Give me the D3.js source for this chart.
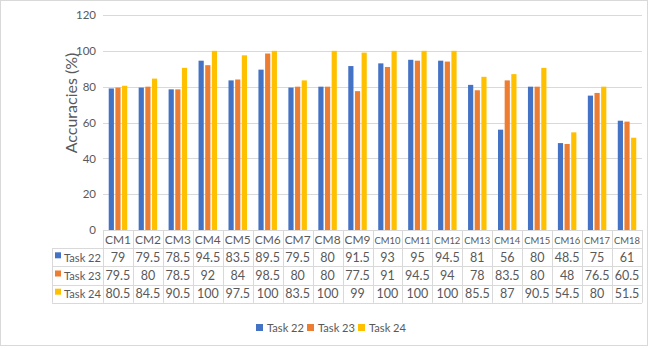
<!DOCTYPE html>
<html>
<head>
<meta charset="utf-8">
<script src="https://cdn.jsdelivr.net/npm/d3@7"></script>
<style>
  html, body { margin: 0; padding: 0; background: #fff; }
  svg { display: block; font-family: "Lato", "Liberation Sans", sans-serif; }
</style>
</head>
<body>
<svg id="chart" width="650" height="349"></svg>
<script>
// Accuracy per configuration for each task
const categories = ["CM1","CM2","CM3","CM4","CM5","CM6","CM7","CM8","CM9","CM10","CM11","CM12","CM13","CM14","CM15","CM16","CM17","CM18"];
const seriesNames = ["Task 22", "Task 23", "Task 24"];
const task22 = [79, 79.5, 78.5, 94.5, 83.5, 89.5, 79.5, 80, 91.5, 93, 95, 94.5, 81, 56, 80, 48.5, 75, 61];
const task23 = [79.5, 80, 78.5, 92, 84, 98.5, 80, 80, 77.5, 91, 94.5, 94, 78, 83.5, 80, 48, 76.5, 60.5];
const task24 = [80.5, 84.5, 90.5, 100, 97.5, 100, 83.5, 100, 99, 100, 100, 100, 85.5, 87, 90.5, 54.5, 80, 51.5];
const yTicks = [0, 20, 40, 60, 80, 100, 120];
const colors = ["#4472C4", "#ED7D31", "#FFC000"];

const series = seriesNames.map((name, i) => ({ name, values: [task22, task23, task24][i], color: colors[i] }));

const svg = d3.select("#chart");
const textColor = "#595959";
const lineColor = "#D9D9D9";

// scale a text's font size down if it is wider than its cell
function fitWidth(sel, maxW, baseSize) {
  sel.style("font-size", baseSize + "px").each(function () {
    const w = this.getComputedTextLength();
    if (w > maxW) d3.select(this).style("font-size", (baseSize * maxW / w).toFixed(2) + "px");
  });
}

// outer chart frame
svg.append("rect").attr("x", 0.5).attr("y", 0.5).attr("width", 647).attr("height", 345)
  .attr("fill", "#fff").attr("stroke", lineColor);

const plotLeft = 103, plotRight = 642, plotTop = 15, plotBottom = 230;

const x = d3.scaleBand().domain(categories).range([plotLeft, plotRight]).padding(0);
const y = d3.scaleLinear().domain([0, 120]).range([plotBottom, plotTop]);
const groupW = 18.5;
const x1 = d3.scaleBand().domain(seriesNames).range([0, groupW]).paddingInner(0.22);

// gridlines
svg.append("g").selectAll("line").data(yTicks.filter(d => d > 0)).join("line")
  .attr("x1", plotLeft).attr("x2", plotRight)
  .attr("y1", d => Math.round(y(d)) + 0.5).attr("y2", d => Math.round(y(d)) + 0.5)
  .attr("stroke", lineColor).attr("stroke-width", 1);

// y axis labels
const yAxis = d3.axisLeft(y).tickValues(yTicks).tickSize(0).tickPadding(0);
const gy = svg.append("g").attr("transform", `translate(${plotLeft - 7},0)`).call(yAxis);
gy.select(".domain").remove();
gy.selectAll("text").attr("fill", textColor).style("font-size", "11.5px")
  .style("font-family", "Lato, 'Liberation Sans', sans-serif");

// y axis title
svg.append("text")
  .attr("transform", `translate(77,103) rotate(-90)`)
  .attr("text-anchor", "middle")
  .attr("fill", textColor)
  .style("font-size", "16px")
  .text("Accuracies (%)");

// bars
const groups = svg.append("g").selectAll("g").data(categories).join("g")
  .attr("transform", d => `translate(${x(d) + (x.bandwidth() - groupW) / 2},0)`);
groups.selectAll("rect")
  .data((c, ci) => series.map(s => ({ name: s.name, value: s.values[ci], color: s.color })))
  .join("rect")
  .attr("x", d => x1(d.name))
  .attr("width", x1.bandwidth())
  .attr("y", d => y(d.value))
  .attr("height", d => y(0) - y(d.value))
  .attr("fill", d => d.color);

// data table below the plot
const rowH = 18.2;
const tableTop = plotBottom;
const labelLeft = 52;
const tg = svg.append("g");
const nRows = series.length + 1;
// horizontal rules
for (let r = 0; r <= nRows; r++) {
  const yy = Math.round(tableTop + r * rowH) + 0.5;
  tg.append("line").attr("x1", r === 0 ? plotLeft : labelLeft).attr("x2", plotRight)
    .attr("y1", yy).attr("y2", yy).attr("stroke", lineColor);
}
// vertical rules
const colEdges = categories.map(c => x(c)).concat([plotRight]);
colEdges.forEach(xx => {
  tg.append("line").attr("x1", Math.round(xx) + 0.5).attr("x2", Math.round(xx) + 0.5)
    .attr("y1", tableTop).attr("y2", tableTop + nRows * rowH).attr("stroke", lineColor);
});
tg.append("line").attr("x1", labelLeft + 0.5).attr("x2", labelLeft + 0.5)
  .attr("y1", tableTop + rowH).attr("y2", tableTop + nRows * rowH).attr("stroke", lineColor);

// header row: categories
const catText = tg.selectAll("text.cat").data(categories).join("text").attr("class", "cat")
  .attr("x", d => x(d) + x.bandwidth() / 2)
  .attr("y", tableTop + rowH / 2 + 4.5)
  .attr("text-anchor", "middle").attr("fill", textColor)
  .text(d => d);
fitWidth(catText, 26, 12.5);

// series rows
series.forEach((s, si) => {
  const cy = tableTop + (si + 1) * rowH + rowH / 2;
  tg.append("rect").attr("x", 55).attr("y", cy - 5).attr("width", 6).attr("height", 6).attr("fill", s.color);
  const lab = tg.append("text").attr("x", 64).attr("y", cy + 4.5).attr("fill", textColor).text(s.name);
  fitWidth(lab, 37, 12.5);
  const vals = tg.selectAll(null).data(s.values).join("text")
    .attr("x", (d, i) => x(categories[i]) + x.bandwidth() / 2)
    .attr("y", cy + 4.5)
    .attr("text-anchor", "middle").attr("fill", textColor)
    .text(d => d);
  fitWidth(vals, 26, 12.5);
});

// legend
const legend = svg.append("g").attr("transform", "translate(256,328)");
const legendOffsets = [0, 51, 102];
series.forEach((s, i) => {
  const g = legend.append("g").attr("transform", `translate(${legendOffsets[i]},0)`);
  g.append("rect").attr("x", 0).attr("y", -4).attr("width", 7).attr("height", 7).attr("fill", s.color);
  const t = g.append("text").attr("x", 11).attr("y", 3.5).attr("fill", textColor).text(s.name);
  fitWidth(t, 37, 11.5);
});
</script>
</body>
</html>
